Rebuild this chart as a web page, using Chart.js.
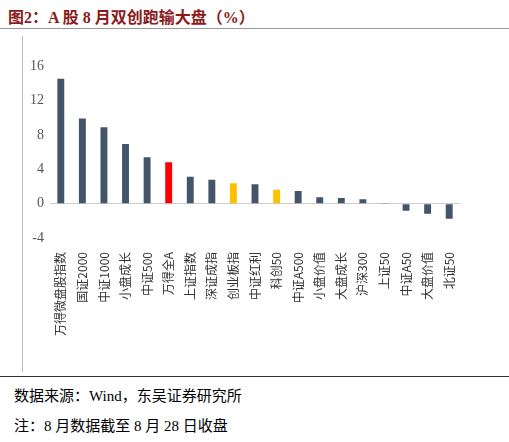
<!DOCTYPE html>
<html><head><meta charset="utf-8">
<script src="https://cdn.jsdelivr.net/npm/chart.js@4"></script>
<style>
body{margin:0;width:509px;height:442px;background:#fff;font-family:"Liberation Serif","Noto Sans CJK SC",serif;position:relative;overflow:hidden}
#title{position:absolute;left:8px;top:4px;font-size:16px;font-weight:bold;color:#8B1A1A}
#t1{position:absolute;left:0;top:28px;width:509px;border-top:1px solid #999}
#vline{position:absolute;left:22px;top:36px;height:336px;border-left:1px solid #bbb}
#wrap{position:absolute;left:24px;top:52px;width:464px;height:290px}
#t2{position:absolute;left:0;top:376px;width:509px;border-top:1px solid #333}
.note{position:absolute;left:14px;font-size:15px;color:#000}
</style></head><body>
<div id="title">图2：A 股 8 月双创跑输大盘（%）</div>
<div id="t1"></div>
<div id="vline"></div>
<div id="wrap"><canvas id="c"></canvas></div>
<div id="t2"></div>
<div class="note" style="top:384px">数据来源：Wind，东吴证券研究所</div>
<div class="note" style="top:414px">注：8 月数据截至 8 月 28 日收盘</div>
<script>
const categories = ['万得微盘股指数','国证2000','中证1000','小盘成长','中证500','万得全A','上证指数','深证成指','创业板指','中证红利','科创50','中证A500','小盘价值','大盘成长','沪深300','上证50','中证A50','大盘价值','北证50'];
const values = [14.55, 9.94, 8.91, 6.96, 5.41, 4.82, 3.13, 2.8, 2.39, 2.25, 1.62, 1.47, 0.74, 0.66, 0.52, 0.02, -0.81, -1.18, -1.77];
const colors = categories.map(c => c === '万得全A' ? '#FF0000' : (c === '创业板指' || c === '科创50') ? '#FFC000' : '#44546A');

new Chart(document.getElementById('c'), {
    type: 'bar',
    data: { labels: categories, datasets: [{ data: values, backgroundColor: colors, barPercentage: 0.32, categoryPercentage: 1 }] },
    options: {
        responsive: true, maintainAspectRatio: false, animation: false,
        layout: { padding: { left: 0, top: 0, right: 28 } },
        plugins: { legend: { display: false }, tooltip: { enabled: false } },
        scales: {
            x: { grid: { display: false }, border: { display: false },
                 ticks: { color: '#333', padding: 6, font: { size: 12, family: 'Noto Sans CJK SC' }, minRotation: 90, maxRotation: 90, autoSkip: false } },
            y: { min: -4, max: 16, ticks: { stepSize: 2, color: '#555', padding: 6, font: { size: 14, family: 'Liberation Serif' } },
                 grid: { drawOnChartArea: true, drawTicks: false, color: ctx => ctx.tick.value === 0 ? '#ccc' : 'transparent' },
                 border: { display: false } }
        }
    }
});
</script>
</body></html>
